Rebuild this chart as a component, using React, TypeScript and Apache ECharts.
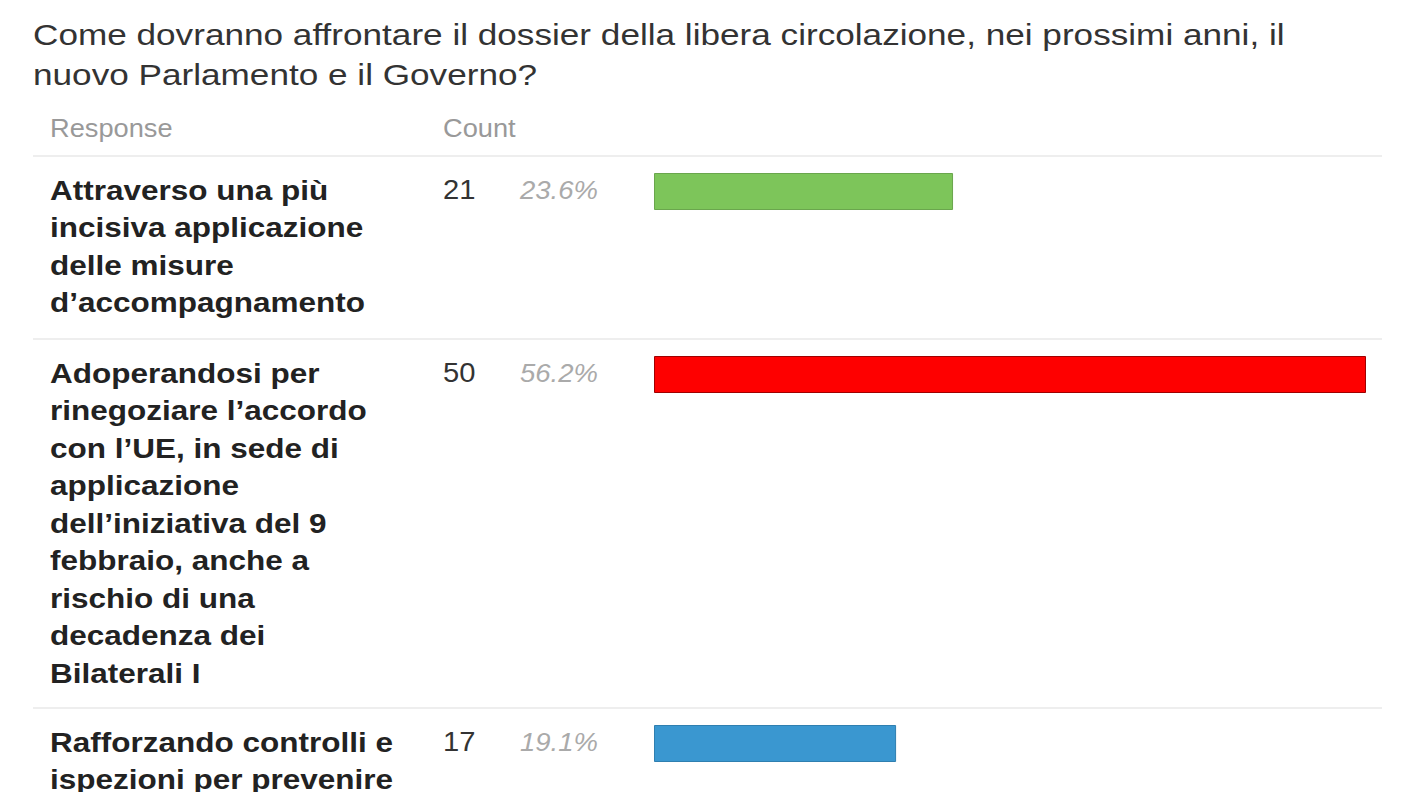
import React, { useEffect, useRef } from 'react';
import * as echarts from 'echarts';

const titleLines = [
  'Come dovranno affrontare il dossier della libera circolazione, nei prossimi anni, il',
  'nuovo Parlamento e il Governo?'
];
const headers = ['Response', 'Count'];
const responses = [
  ['Attraverso una più', 'incisiva applicazione', 'delle misure', 'd’accompagnamento'],
  [
    'Adoperandosi per',
    'rinegoziare l’accordo',
    'con l’UE, in sede di',
    'applicazione',
    'dell’iniziativa del 9',
    'febbraio, anche a',
    'rischio di una',
    'decadenza dei',
    'Bilaterali I'
  ],
  ['Rafforzando controlli e', 'ispezioni per prevenire']
];
const counts = [21, 50, 17];
const percents = ['23.6%', '56.2%', '19.1%'];
const barColors = ['#7dc55a', '#fe0000', '#3a97d0'];
const barBorders = ['#6aa64d', '#a00000', '#2f7fb0'];

const FONT = '"Liberation Sans", Arial, sans-serif';

const App: React.FC = () => {
  const chartRef = useRef<HTMLDivElement>(null);

  useEffect(() => {
    document.body.style.margin = '0';
    if (!chartRef.current) return;
    const chart = echarts.init(chartRef.current, undefined, { renderer: 'svg' });

    // row separators (y of the top rule of each row)
    const rowTops = [156, 339, 708];
    const lineH = 37.5;
    const maxCount = Math.max(...counts);

    const graphics: any[] = [];
    titleLines.forEach((t, i) => {
      graphics.push({
        type: 'text',
        x: 33,
        y: 35 + i * 40,
        scaleX: 1.212,
        style: { text: t, fill: '#333', font: `29px ${FONT}`, verticalAlign: 'middle' }
      });
    });
    [50, 443].forEach((x, i) => {
      graphics.push({
        type: 'text', x, y: 128, scaleX: 1.09,
        style: { text: headers[i], fill: '#999', font: `25px ${FONT}`, verticalAlign: 'middle' }
      });
    });

    rowTops.forEach((top, i) => {
      graphics.push({
        type: 'line',
        shape: { x1: 33, y1: top, x2: 1382, y2: top },
        style: { stroke: '#eeeeee', lineWidth: 2 }
      });
      graphics.push({
        type: 'text', x: 50, y: top + 34 - lineH / 2, scaleX: 1.125,
        style: {
          text: responses[i].join('\n'),
          fill: '#222',
          font: `bold 28px ${FONT}`,
          lineHeight: lineH,
          verticalAlign: 'top'
        }
      });
      graphics.push({
        type: 'text', x: 443, y: top + 34, scaleX: 1.08,
        style: { text: String(counts[i]), fill: '#333', font: `27px ${FONT}`, verticalAlign: 'middle' }
      });
      graphics.push({
        type: 'text', x: 520, y: top + 34, scaleX: 1.1,
        style: { text: percents[i], fill: '#aaa', font: `italic 25px ${FONT}`, verticalAlign: 'middle' }
      });
    });

    const option: any = {
      animation: false,
      graphic: graphics,
      grid: rowTops.map((top) => ({ left: 654, right: 42, top: top + 17, height: 37 })),
      xAxis: rowTops.map((_, i) => ({
        type: 'value', gridIndex: i, min: 0, max: maxCount, show: false
      })),
      yAxis: rowTops.map((_, i) => ({
        type: 'category', gridIndex: i, data: [i], show: false
      })),
      series: counts.map((c, i) => ({
        type: 'bar',
        xAxisIndex: i,
        yAxisIndex: i,
        barWidth: '100%',
        data: [c],
        itemStyle: { color: barColors[i], borderColor: barBorders[i], borderWidth: 1 }
      }))
    };
    chart.setOption(option);

    const handleResize = () => chart.resize();
    window.addEventListener('resize', handleResize);
    return () => {
      window.removeEventListener('resize', handleResize);
      chart.dispose();
    };
  }, []);

  return <div ref={chartRef} style={{ width: '1408px', height: '792px' }}></div>;
};

export default App;
